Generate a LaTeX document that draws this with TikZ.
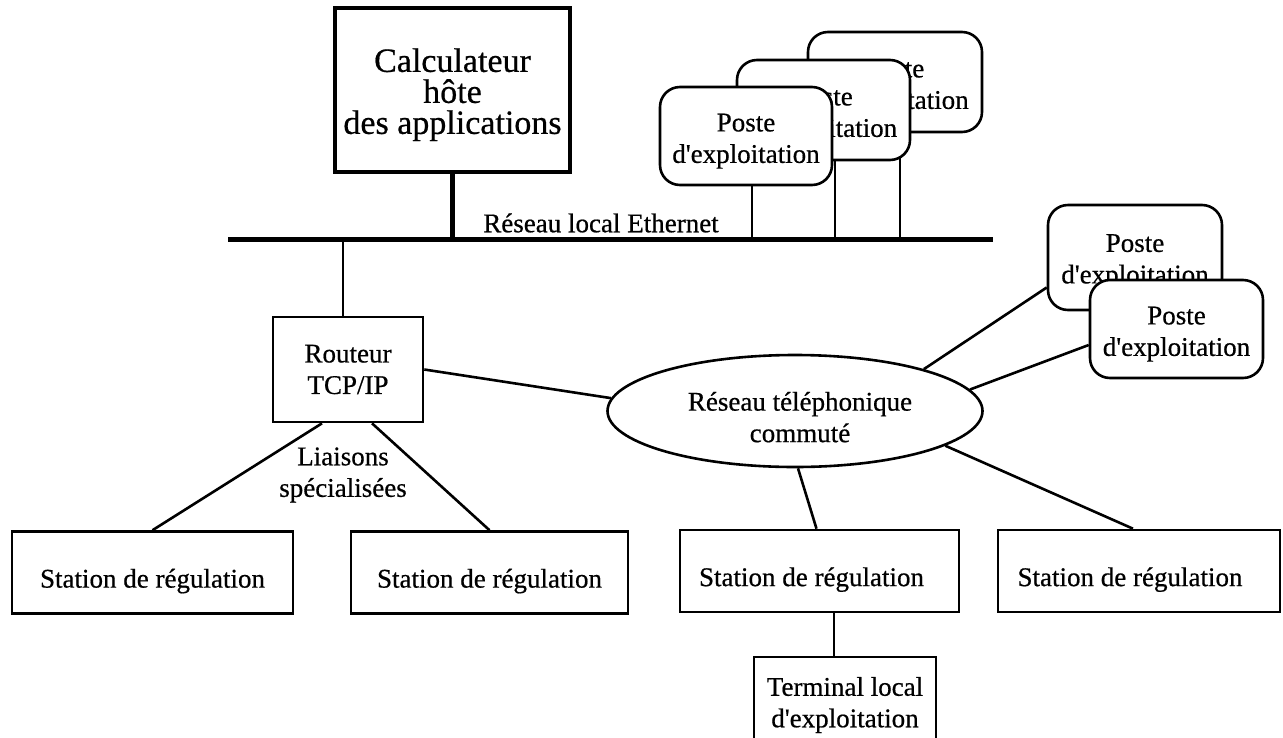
\documentclass[tikz,border=0pt]{standalone}
\usepackage{fontspec}
\setmainfont{Liberation Serif}[FakeBold=0.6]
\usetikzlibrary{shapes.geometric}
\newcommand{\apo}{\textquotesingle}
\newcommand{\hstrut}[1]{\rule{0pt}{#1pt}}
\begin{document}
\begin{tikzpicture}[x=1pt,y=-1pt,
  txt/.style={font=\fontsize{27}{31.5}\selectfont, align=center},
  box/.style={txt, draw, line width=2.6pt, fill=white, inner sep=0pt},
  poste/.style={box, rounded corners=20pt},
  station/.style={box, minimum height=82pt},
  link/.style={line width=2.6pt},
  heavy/.style={line width=5pt}]
\useasboundingbox (0,0) rectangle (1283,737);
\clip (0,0) rectangle (1283,737);

% host computer and Ethernet bus
\coordinate (busL) at (228,239);
\coordinate (busR) at (993,239);
\node[box, line width=4.5pt, minimum width=235pt, minimum height=164pt,
      font=\fontsize{34}{31}\selectfont] (calc) at (452.5,90) {\hstrut{33}Calculateur\\hôte\\des applications};
\draw[heavy] (calc.south) -- (calc.south |- busL);
\draw[heavy] (busL) -- (busR);
\node[txt] (eth) at (601,223) {Réseau local Ethernet};

% stacked workstations on the LAN
\node[poste, minimum width=174pt, minimum height=100pt] (pC) at (895,82) {\hstrut{28}Poste\\d\apo exploitation};
\coordinate (cC) at ([xshift=5pt]pC.south);
\draw[link] (cC) -- (cC |- busL);
\node[poste, minimum width=173pt, minimum height=100pt] (pB) at (823.5,110) {\hstrut{28}Poste\\d\apo exploitation};
\coordinate (cB) at ([xshift=11.5pt]pB.south);
\draw[link] (cB) -- (cB |- busL);
\node[poste, minimum width=172pt, minimum height=98pt] (pA) at (746,136) {\hstrut{28}Poste\\d\apo exploitation};
\coordinate (cA) at ([xshift=6pt]pA.south);
\draw[link] (cA) -- (cA |- busL);

% router
\node[box, minimum width=150pt, minimum height=105pt] (router) at (348,369.5) {Routeur\\TCP/IP};
\coordinate (rs) at ([xshift=-5pt]router.north);
\draw[link] (rs) -- (rs |- busL);
\node[txt] (liai) at (343,475) {Liaisons\\spécialisées};

% telephone network
\node[ellipse, draw, line width=2.6pt, fill=white, minimum width=375pt, minimum height=112pt,
      inner sep=0pt, txt] (tel) at (795,411) {\hstrut{31}\hspace*{10pt}Réseau téléphonique\\\hspace*{10pt}commuté};

% remote workstations
\node[poste, minimum width=174pt, minimum height=105pt] (pr1) at (1135,257.5) {\hstrut{26}Poste\\d\apo exploitation};
\node[poste, minimum width=173pt, minimum height=98pt] (pr2) at (1176.5,329) {\hstrut{28}Poste\\d\apo exploitation};

% stations
\node[station, minimum width=281pt] (st1) at (152.5,572.5) {\hstrut{36}Station de régulation};
\node[station, minimum width=277pt] (st2) at (489.5,572.5) {\hstrut{36}Station de régulation};
\node[station, minimum width=279pt] (st3) at (819.5,571) {\hstrut{36}Station de régulation\hspace*{16pt}};
\node[station, minimum width=282pt] (st4) at (1139,571) {\hstrut{36}Station de régulation\hspace*{18pt}};
\node[box, minimum width=182pt, minimum height=96pt] (term) at (845,705) {Terminal local\\d\apo exploitation};

% connectors
\draw[link] (router.east) -- (tel.176.6);
\draw[link] ([xshift=-26pt]router.south) -- (st1.north);
\draw[link] ([xshift=24pt]router.south) -- (st2.north);
\draw[link] (tel.18.3) -- ([yshift=-30pt]pr1.west);
\draw[link] (tel.7.5) -- ([yshift=-16pt]pr2.west);
\draw[link] (tel.-87) -- ([xshift=-3pt]st3.north);
\draw[link] (tel.-13) -- ([xshift=-6pt]st4.north);
\draw[link] ([xshift=14.5pt]st3.south) -- ([xshift=-11pt]term.north);
\end{tikzpicture}
\end{document}
